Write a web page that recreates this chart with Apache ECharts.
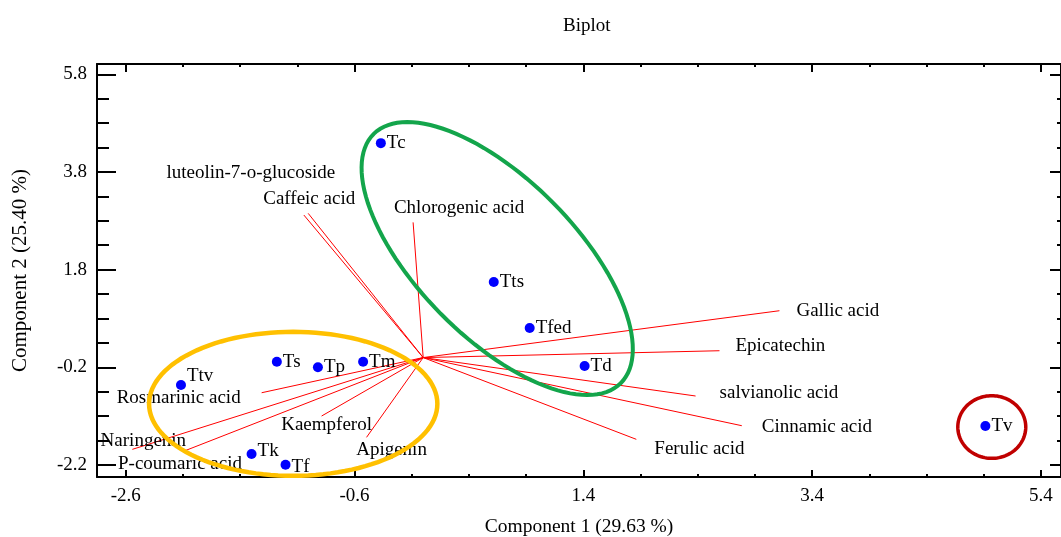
<!DOCTYPE html>
<html>
<head>
<meta charset="utf-8">
<script src="https://cdn.jsdelivr.net/npm/echarts@6/dist/echarts.min.js"></script>
<style>
html,body{margin:0;padding:0;background:#fff;}
#chart{width:1061px;height:537px;}
</style>
</head>
<body>
<div id="chart"></div>
<script>
// ---- data ----
const sampleNames = ['Tc','Tts','Tfed','Td','Tv','Ttv','Ts','Tp','Tm','Tk','Tf'];
const sampleX = [-0.37, 0.617, 0.931, 1.411, 4.914, -2.117, -1.279, -0.92, -0.525, -1.50, -1.203];
const sampleY = [4.39, 1.546, 0.604, -0.173, -1.40, -0.562, -0.085, -0.20, -0.085, -1.975, -2.194];

const varNames = ['Gallic acid','Epicatechin','salvianolic acid','Cinnamic acid','Ferulic acid',
  'Chlorogenic acid','Caffeic acid','luteolin-7-o-glucoside','Rosmarinic acid','Naringenin',
  'P-coumaric acid','Kaempferol','Apigenin'];
const varX = [3.114, 2.59, 2.381, 2.785, 1.863, -0.088, -1.005, -1.043, -1.412, -2.542, -2.082, -0.888, -0.495];
const varY = [0.959, 0.14, -0.787, -1.395, -1.674, 2.768, 2.952, 2.918, -0.72, -1.879, -1.907, -1.197, -1.633];

const xTickLabels = [-2.6, -0.6, 1.4, 3.4, 5.4];
const xMinorTicks = [-2.1, -1.6, -1.1, -0.1, 0.4, 0.9, 1.9, 2.4, 2.9, 3.9, 4.4, 4.9];
const yTickLabels = [-2.2, -0.2, 1.8, 3.8, 5.8];
const yMinorTicks = [-1.7, -1.2, -0.7, 0.3, 0.8, 1.3, 2.3, 2.8, 3.3, 4.3, 4.8, 5.3];

// group ellipses (annotation shapes): centre and two conjugate semi-axis vectors, data units
const groupCentres = [[0.647, 2.027], [-1.136, -0.947], [4.970, -1.422]];
const groupAxisU = [[1.079, -2.553], [1.260, 0], [0.297, 0]];
const groupAxisV = [[-0.491, -1.136], [0, 1.474], [0, 0.641]];

// ---- styles ----
const FONT = '"Liberation Serif", "Times New Roman", serif';
const FS = 19;
const groupColors = ['#13a54b', '#ffc000', '#c00000'];
const groupWidths = [4, 4.5, 3.5];
// label offsets in px from arrow tip: [dx, dy, align]
const varLabelStyle = [
  [17, 0, 'left'], [16, -5, 'left'], [24, -3, 'left'], [20, 1, 'left'], [18, 10, 'left'],
  [46, -14, 'center'], [1, -14, 'center'], [-53, -42, 'center'], [-21, 5, 'right'],
  [11, -8, 'center'], [-5, 13, 'center'], [5, 9, 'center'], [25, 13, 'center']
];
// per-sample label nudges in px
const sampleLabelNudge = {Ttv: [0, -9], Tk: [0, -3], Tf: [0, 2]};

const chart = echarts.init(document.getElementById('chart'), null, {renderer: 'canvas'});

const XMIN = -2.851, XMAX = 5.575, YMIN = -2.445, YMAX = 6.01;

function xAx(extra) {
  return Object.assign({
    type: 'value', min: XMIN, max: XMAX, gridIndex: 0,
    splitLine: {show: false},
    axisLine: {show: true, onZero: false, lineStyle: {color: '#000', width: 2}},
    axisLabel: {show: false},
    axisTick: {show: false}
  }, extra);
}
function yAx(extra) {
  return Object.assign({
    type: 'value', min: YMIN, max: YMAX, gridIndex: 0,
    splitLine: {show: false},
    axisLine: {show: true, onZero: false, lineStyle: {color: '#000', width: 2}},
    axisLabel: {show: false},
    axisTick: {show: false}
  }, extra);
}

const option = {
  backgroundColor: '#fff',
  animation: false,
  title: {
    text: 'Biplot', left: 563, top: 17, padding: 0,
    textStyle: {fontFamily: FONT, fontSize: FS, fontWeight: 'normal', color: '#000'}
  },
  grid: {left: 97, right: 0, top: 64, bottom: 60, containLabel: false, outerBoundsMode: 'none'},
  xAxis: [
    xAx({
      position: 'bottom',
      name: 'Component 1 (29.63 %)', nameLocation: 'middle', nameGap: 40,
      nameTextStyle: {fontFamily: FONT, fontSize: 19.5, color: '#000'},
      axisTick: {show: true, inside: true, length: 7, customValues: xTickLabels, lineStyle: {color: '#000', width: 2}},
      axisLabel: {show: true, customValues: xTickLabels, margin: 10, formatter: v => v.toFixed(1),
        fontFamily: FONT, fontSize: FS, color: '#000'}
    }),
    xAx({
      position: 'bottom', axisLine: {show: false, onZero: false},
      axisTick: {show: true, inside: true, length: 3, customValues: xMinorTicks, lineStyle: {color: '#000', width: 2}}
    }),
    xAx({
      position: 'top',
      axisTick: {show: true, inside: true, length: 8, customValues: xTickLabels, lineStyle: {color: '#000', width: 2}}
    }),
    xAx({
      position: 'top', axisLine: {show: false, onZero: false},
      axisTick: {show: true, inside: true, length: 3, customValues: xMinorTicks, lineStyle: {color: '#000', width: 2}}
    })
  ],
  yAxis: [
    yAx({
      position: 'left',
      name: 'Component 2 (25.40 %)', nameLocation: 'middle', nameGap: 66, nameRotate: 90,
      nameTextStyle: {fontFamily: FONT, fontSize: 21, color: '#000'},
      axisTick: {show: true, inside: true, length: 19, customValues: yTickLabels, lineStyle: {color: '#000', width: 2}},
      axisLabel: {show: true, customValues: yTickLabels, margin: 10, formatter: v => v.toFixed(1),
        fontFamily: FONT, fontSize: FS, color: '#000'}
    }),
    yAx({
      position: 'left', axisLine: {show: false, onZero: false},
      axisTick: {show: true, inside: true, length: 12, customValues: yMinorTicks, lineStyle: {color: '#000', width: 2}}
    }),
    yAx({
      position: 'right',
      axisTick: {show: true, inside: true, length: 11, customValues: yTickLabels, lineStyle: {color: '#000', width: 2}}
    }),
    yAx({
      position: 'right', axisLine: {show: false, onZero: false},
      axisTick: {show: true, inside: true, length: 4, customValues: yMinorTicks, lineStyle: {color: '#000', width: 2}}
    })
  ],
  series: [
    {
      type: 'custom', name: 'variables', xAxisIndex: 0, yAxisIndex: 0, z: 2,
      data: varX.map((x, i) => [x, varY[i]]),
      renderItem: function (params, api) {
        const i = params.dataIndex;
        const o = api.coord([0, 0]);
        const e = api.coord([api.value(0), api.value(1)]);
        const st = varLabelStyle[i];
        return {
          type: 'group',
          children: [
            {type: 'line', shape: {x1: o[0], y1: o[1], x2: e[0], y2: e[1]},
              style: {stroke: '#ff0000', lineWidth: 1}},
            {type: 'text', x: e[0] + st[0], y: e[1] + st[1],
              style: {text: varNames[i], fill: '#000', fontFamily: 'Liberation Serif', fontSize: FS,
                align: st[2], textAlign: st[2], verticalAlign: 'middle', textVerticalAlign: 'middle'}}
          ]
        };
      }
    },
    {
      type: 'scatter', name: 'samples', xAxisIndex: 0, yAxisIndex: 0, z: 4,
      symbol: 'circle', symbolSize: 10,
      itemStyle: {color: '#0000ff', opacity: 1},
      label: {show: true, position: 'right', distance: 1, formatter: '{b}',
        fontFamily: FONT, fontSize: FS, color: '#000'},
      data: sampleNames.map((n, i) => {
        const item = {name: n, value: [sampleX[i], sampleY[i]]};
        if (sampleLabelNudge[n]) item.label = {offset: sampleLabelNudge[n]};
        return item;
      })
    },
    {
      type: 'custom', name: 'groups', xAxisIndex: 0, yAxisIndex: 0, z: 3,
      data: groupCentres.map(c => [c[0], c[1]]),
      renderItem: function (params, api) {
        const i = params.dataIndex;
        const c = groupCentres[i];
        const u = groupAxisU[i], v = groupAxisV[i];
        const pc = api.coord(c);
        const pu = api.coord([c[0] + u[0], c[1] + u[1]]);
        const pv = api.coord([c[0] + v[0], c[1] + v[1]]);
        const ux = pu[0] - pc[0], uy = pu[1] - pc[1];
        const vx = pv[0] - pc[0], vy = pv[1] - pc[1];
        const pts = [];
        const N = 120;
        for (let k = 0; k < N; k++) {
          const t = 2 * Math.PI * k / N;
          pts.push([pc[0] + Math.cos(t) * ux + Math.sin(t) * vx, pc[1] + Math.cos(t) * uy + Math.sin(t) * vy]);
        }
        return {
          type: 'polygon', shape: {points: pts},
          style: {fill: 'none', stroke: groupColors[i], lineWidth: groupWidths[i]}
        };
      }
    }
  ]
};
chart.setOption(option);
</script>
</body>
</html>
